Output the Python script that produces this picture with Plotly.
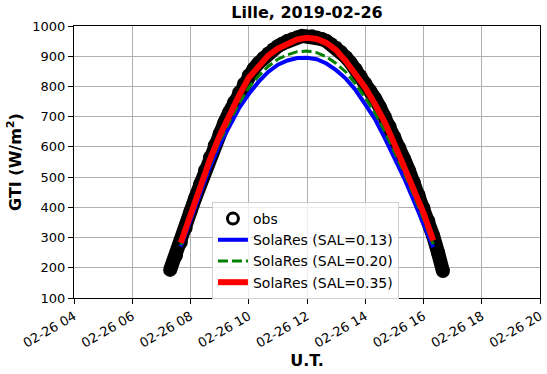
"""GTI obs vs SolaRes model curves, Lille 2019-02-26."""
import plotly.graph_objects as go

DAY = "2019-02-26"

obs_time = [
    "07:18", "07:30", "07:40", "07:50", "08:00", "08:10", "08:20", "08:30", "08:40", "08:50",
    "09:00", "09:10", "09:20", "09:30", "09:40", "09:50", "10:00", "10:10", "10:20", "10:30",
    "10:40", "10:50", "11:00", "11:10", "11:20", "11:30", "11:40", "11:50", "12:00", "12:10",
    "12:20", "12:30", "12:40", "12:50", "13:00", "13:10", "13:20", "13:30", "13:40", "13:50",
    "14:00", "14:10", "14:20", "14:30", "14:40", "14:50", "15:00", "15:10", "15:20", "15:30",
    "15:40", "15:50", "16:00", "16:10", "16:20", "16:30", "16:40",
]
obs_gti = [
    193, 240, 284, 332, 386, 432, 478, 522, 565, 605,
    644, 681, 715, 748, 779, 808, 836, 858, 877, 894,
    909, 922, 933, 942, 951, 957, 963, 967, 965, 966,
    962, 957, 950, 940, 928, 914, 897, 878, 857, 834,
    810, 786, 760, 731, 701, 668, 633, 597, 560, 522,
    482, 441, 398, 355, 305, 250, 189,
]

# model output, 20-min steps
model_time = [
    "07:40", "08:00", "08:20", "08:40", "09:00", "09:20", "09:40", "10:00", "10:20",
    "10:40", "11:00", "11:20", "11:40", "12:00", "12:20", "12:40", "13:00", "13:20",
    "13:40", "14:00", "14:20", "14:40", "15:00", "15:20", "15:40", "16:00", "16:20",
]
sal_013 = [
    270, 358, 450, 533, 607, 670, 728, 775, 815,
    848, 872, 886, 894, 895, 890, 876, 854, 826,
    788, 741, 692, 630, 563, 497, 422, 349, 268,
]
sal_020 = [
    275, 365, 457, 542, 619, 683, 744, 796, 834,
    866, 890, 905, 915, 917, 912, 898, 876, 848,
    808, 763, 712, 652, 584, 515, 439, 362, 278,
]
sal_035 = [
    283, 378, 470, 558, 637, 705, 770, 829, 868,
    902, 925, 943, 956, 961, 957, 944, 920, 884,
    843, 796, 742, 682, 610, 535, 458, 382, 290,
]

obs_x = [f"{DAY} {t}" for t in obs_time]
mod_x = [f"{DAY} {t}" for t in model_time]

fig = go.Figure()

# thick black band of overlapping open circles
fig.add_trace(go.Scatter(
    x=obs_x, y=obs_gti, mode="lines+markers", showlegend=False,
    line=dict(color="black", width=14),
    marker=dict(color="black", size=14),
))
# legend entry for obs
fig.add_trace(go.Scatter(
    x=[None], y=[None], mode="markers", name="obs",
    marker=dict(symbol="circle-open", color="black", size=11, line=dict(width=3, color="black")),
))
fig.add_trace(go.Scatter(
    x=mod_x, y=sal_013, mode="lines", name="SolaRes (SAL=0.13)",
    line=dict(color="blue", width=4),
))
fig.add_trace(go.Scatter(
    x=mod_x, y=sal_020, mode="lines", name="SolaRes (SAL=0.20)",
    line=dict(color="green", width=3, dash="10px,4px"),
))
fig.add_trace(go.Scatter(
    x=mod_x, y=sal_035, mode="lines", name="SolaRes (SAL=0.35)",
    line=dict(color="red", width=6),
))

axis_common = dict(
    showline=True, linecolor="black", linewidth=1, mirror=True,
    ticks="outside", ticklen=5, tickcolor="black",
    showgrid=True, gridcolor="#b0b0b0", gridwidth=1,
    zeroline=False, automargin=False,
    tickfont=dict(family="DejaVu Sans", size=13, color="black"),
)

fig.update_layout(
    width=547, height=374,
    margin=dict(l=74, r=7, t=26, b=76),
    paper_bgcolor="white", plot_bgcolor="white",
    font=dict(family="DejaVu Sans", size=13, color="black"),
    title=dict(
        text="<b>Lille, 2019-02-26</b>", x=0.5, xref="paper", xanchor="center",
        y=0.967, yanchor="middle", font=dict(size=16),
    ),
    xaxis=dict(
        range=[f"{DAY} 04:00", f"{DAY} 20:00"],
        tick0=f"{DAY} 04:00", dtick=2 * 3600 * 1000,
        tickformat="%m-%d %H", tickangle=-30,
        title=dict(text="<b>U.T.</b>", standoff=4),
        **axis_common,
    ),
    yaxis=dict(
        range=[100, 1000], dtick=100,
        title=dict(text="<b>GTI (W/m<sup>2</sup>)</b>", standoff=6),
        **axis_common,
    ),
    legend=dict(
        x=0.296, y=0.353, xanchor="left", yanchor="top",
        bgcolor="rgba(255,255,255,0.8)", bordercolor="#d0d0d0", borderwidth=1,
        font=dict(size=14), tracegroupgap=0,
    ),
    showlegend=True,
)

# drop the browser's default 8px body margin so the figure fills the window
fig.write_html(
    "out.html",
    config={"displayModeBar": False},
    post_script="document.body.style.margin = '0';",
)
